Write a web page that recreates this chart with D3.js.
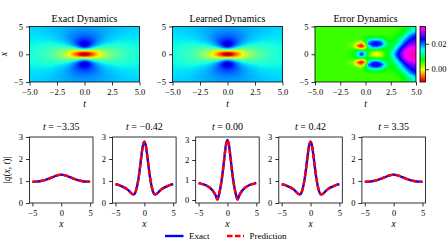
<!DOCTYPE html>
<html>
<head>
<meta charset="utf-8">
<script src="https://cdnjs.cloudflare.com/ajax/libs/d3/7.8.5/d3.min.js"></script>
<style>
  body { margin: 0; background: #fff; }
  svg { display: block; font-family: "Liberation Serif", "DejaVu Serif", serif; }
  .axis path { display: none; }
  .axis line { stroke: #000; stroke-width: 0.8; }
  .axis text { font-family: "Liberation Serif", "DejaVu Serif", serif; font-size: 8.5px; fill: #000; }
  .frame { fill: none; stroke: #000; stroke-width: 0.8; }
  .title { font-size: 10px; text-anchor: middle; }
  .label { font-size: 9.5px; text-anchor: middle; font-style: italic; }
</style>
</head>
<body>
<div id="chart"></div>
<script>
var width = 448;
var height = 252;

// |q(x,t)|, one quarter (t >= 0, x >= 0), field is symmetric
var qT = [0, 0.25, 0.5, 0.75, 1, 1.5, 2, 3, 4, 5];
var qX = [0, 0.25, 0.5, 0.75, 1, 1.25, 1.5, 1.75, 2, 2.5, 3, 4, 5];
var qAbs = [
  [3.00, 2.77, 2.20, 1.56, 1.00, 0.56, 0.23, 0.02, 0.20, 0.45, 0.60, 0.77, 0.85],
  [2.92, 2.71, 2.19, 1.59, 1.06, 0.65, 0.37, 0.25, 0.29, 0.47, 0.61, 0.77, 0.85],
  [2.72, 2.55, 2.13, 1.64, 1.18, 0.83, 0.59, 0.47, 0.45, 0.54, 0.64, 0.78, 0.85],
  [2.47, 2.36, 2.05, 1.67, 1.30, 1.00, 0.79, 0.66, 0.61, 0.62, 0.68, 0.79, 0.86],
  [2.24, 2.16, 1.94, 1.66, 1.37, 1.13, 0.94, 0.82, 0.75, 0.71, 0.73, 0.81, 0.87],
  [1.86, 1.82, 1.72, 1.58, 1.41, 1.26, 1.12, 1.02, 0.94, 0.86, 0.83, 0.85, 0.88],
  [1.61, 1.59, 1.54, 1.47, 1.37, 1.28, 1.19, 1.11, 1.05, 0.96, 0.92, 0.89, 0.91],
  [1.34, 1.34, 1.32, 1.30, 1.26, 1.23, 1.19, 1.15, 1.12, 1.06, 1.01, 0.96, 0.95],
  [1.21, 1.21, 1.20, 1.19, 1.18, 1.17, 1.15, 1.13, 1.11, 1.08, 1.05, 1.00, 0.98],
  [1.14, 1.14, 1.14, 1.14, 1.13, 1.12, 1.11, 1.10, 1.09, 1.07, 1.05, 1.02, 1.00]
];

// error field, rows are x >= 0 (mirrored), columns are t
var errT = [-5, -2, -1.2, -0.8, -0.4, 0, 0.3, 0.7, 1.1, 1.5, 1.9, 2.3, 2.7, 3.1, 3.5, 3.9, 4.3, 4.7, 5];
var errX = [0, 0.3, 0.7, 1.1, 1.45, 1.85, 2.3, 2.8, 3.4, 4, 5];
var errVals = [
  [0.0055, 0.0055, 0.007, 0.013, 0.024, 0.014, 0.006, 0.001, -0.001, 0.001, 0.006, 0.009, 0.015, 0.022, 0.027, 0.031, 0.033, 0.0335, 0.0335],
  [0.0055, 0.0055, 0.007, 0.012, 0.021, 0.013, 0.006, 0.002, 0.000, 0.002, 0.006, 0.009, 0.014, 0.021, 0.026, 0.031, 0.033, 0.0335, 0.0335],
  [0.0055, 0.0055, 0.006, 0.008, 0.009, 0.008, 0.007, 0.007, 0.006, 0.006, 0.007, 0.009, 0.013, 0.019, 0.025, 0.030, 0.032, 0.033, 0.033],
  [0.0055, 0.0055, 0.005, 0.001, -0.004, 0.002, 0.011, 0.015, 0.015, 0.012, 0.008, 0.008, 0.011, 0.016, 0.023, 0.028, 0.031, 0.032, 0.032],
  [0.0055, 0.0055, 0.003, -0.006, -0.010, -0.004, 0.014, 0.021, 0.022, 0.019, 0.012, 0.008, 0.010, 0.014, 0.020, 0.025, 0.029, 0.030, 0.031],
  [0.0055, 0.0055, 0.004, -0.002, -0.006, 0.004, 0.020, 0.024, 0.025, 0.023, 0.016, 0.009, 0.009, 0.012, 0.017, 0.023, 0.026, 0.028, 0.029],
  [0.0055, 0.0055, 0.0055, 0.004, 0.002, 0.008, 0.017, 0.021, 0.022, 0.020, 0.013, 0.007, 0.008, 0.010, 0.015, 0.020, 0.024, 0.026, 0.027],
  [0.0055, 0.0055, 0.0055, 0.0055, 0.006, 0.007, 0.010, 0.012, 0.012, 0.011, 0.008, 0.006, 0.007, 0.009, 0.012, 0.017, 0.021, 0.024, 0.025],
  [0.0055, 0.0055, 0.0055, 0.0055, 0.0055, 0.0055, 0.006, 0.006, 0.006, 0.006, 0.006, 0.006, 0.006, 0.007, 0.009, 0.013, 0.018, 0.021, 0.023],
  [0.0055, 0.0055, 0.0055, 0.0055, 0.0055, 0.0055, 0.0055, 0.0055, 0.0055, 0.0055, 0.0055, 0.0055, 0.0055, 0.006, 0.007, 0.009, 0.013, 0.016, 0.018],
  [0.0055, 0.0055, 0.0055, 0.0055, 0.0055, 0.0055, 0.0055, 0.0055, 0.0055, 0.0055, 0.0055, 0.0055, 0.0055, 0.0055, 0.006, 0.007, 0.009, 0.011, 0.013]
];
var errDomain = [-0.010, 0.0335];
var errTicks = [0.00, 0.02];

// slices |q(x,t)|, x >= 0 (mirrored)
var sliceTimes = ["\u22123.35", "\u22120.42", "0.00", "0.42", "3.35"];
var sliceX = [0, 0.25, 0.5, 0.75, 1, 1.25, 1.5, 1.75, 2, 2.5, 3, 3.5, 4, 4.5, 5];
var exactOuter = [1.29, 1.28, 1.27, 1.25, 1.23, 1.20, 1.18, 1.15, 1.12, 1.07, 1.03, 1.00, 0.98, 0.97, 0.96];
var exactInner = [2.79, 2.61, 2.16, 1.62, 1.14, 0.77, 0.52, 0.40, 0.40, 0.51, 0.63, 0.71, 0.77, 0.82, 0.85];
var exactCenter = [3.00, 2.77, 2.20, 1.56, 1.00, 0.56, 0.23, 0.02, 0.20, 0.45, 0.60, 0.70, 0.77, 0.81, 0.85];
var predOuter = [1.29, 1.28, 1.27, 1.25, 1.23, 1.20, 1.18, 1.15, 1.12, 1.07, 1.03, 1.00, 0.98, 0.97, 0.96];
var predInner = [2.79, 2.61, 2.16, 1.62, 1.14, 0.77, 0.52, 0.40, 0.40, 0.51, 0.63, 0.71, 0.77, 0.82, 0.85];
var predCenter = [3.00, 2.77, 2.20, 1.56, 1.00, 0.56, 0.23, 0.02, 0.20, 0.45, 0.60, 0.70, 0.77, 0.81, 0.85];
var exactSlices = [exactOuter, exactInner, exactCenter, exactInner, exactOuter];
var predSlices = [predOuter, predInner, predCenter, predInner, predOuter];

var heatTicksX = [-5, -2.5, 0, 2.5, 5];
var heatTicksY = [-5, 0, 5];
var sliceTicksX = [-5, 0, 5];
var sliceTicksY = [0, 1, 2, 3];

var svg = d3.select("#chart")
            .append("svg")
              .attr("width", width)
              .attr("height", height);

// colour maps
function channel(stops) {
  return d3.scaleLinear().domain(stops.map(function(s) { return s[0]; }))
           .range(stops.map(function(s) { return s[1]; })).clamp(true);
}
var jetR = channel([[0, 0], [0.35, 0], [0.66, 1], [0.89, 1], [1, 0.5]]);
var jetG = channel([[0, 0], [0.125, 0], [0.375, 1], [0.64, 1], [0.91, 0], [1, 0]]);
var jetB = channel([[0, 0.5], [0.11, 1], [0.34, 1], [0.65, 0], [1, 0]]);
function jet(f) { return [jetR(f) * 255, jetG(f) * 255, jetB(f) * 255]; }

var rainbowPos = [0, 0.03, 0.215, 0.4, 0.586, 0.77, 0.954, 1];
var rainbowCol = ["rgb(255,0,41)", "rgb(255,0,0)", "rgb(255,255,0)", "rgb(0,255,0)",
                  "rgb(0,255,255)", "rgb(0,0,255)", "rgb(255,0,255)", "rgb(255,0,191)"];
var rainbowScale = d3.scaleLinear().domain(rainbowPos).range(rainbowCol).clamp(true);
function rainbow(f) { var c = d3.rgb(rainbowScale(f)); return [c.r, c.g, c.b]; }

// bilinear lookup on a (non uniform) grid
function locate(arr, v) {
  var i = d3.bisectRight(arr, v) - 1;
  i = Math.max(0, Math.min(arr.length - 2, i));
  var f = (v - arr[i]) / (arr[i + 1] - arr[i]);
  return [i, Math.max(0, Math.min(1, f))];
}
function lookup(rowAxis, colAxis, vals, r, c) {
  var a = locate(rowAxis, r), b = locate(colAxis, c);
  var v00 = vals[a[0]][b[0]], v01 = vals[a[0]][b[0] + 1];
  var v10 = vals[a[0] + 1][b[0]], v11 = vals[a[0] + 1][b[0] + 1];
  return (v00 * (1 - b[1]) + v01 * b[1]) * (1 - a[1]) + (v10 * (1 - b[1]) + v11 * b[1]) * a[1];
}

function drawHeat(x0, y0, w, h, valueAt, colourAt, title, withYLabel) {
  var g = svg.append("g").attr("transform", "translate(" + x0 + "," + y0 + ")");
  var tScale = d3.scaleLinear().domain([-5, 5]).range([0, w]);
  var xScale = d3.scaleLinear().domain([-5, 5]).range([h, 0]);

  var k = 3;
  var canvas = document.createElement("canvas");
  canvas.width = Math.round(w * k);
  canvas.height = Math.round(h * k);
  var ctx = canvas.getContext("2d");
  var img = ctx.createImageData(canvas.width, canvas.height);
  for (var j = 0; j < canvas.height; j++) {
    for (var i = 0; i < canvas.width; i++) {
      var t = tScale.invert((i + 0.5) / k);
      var x = xScale.invert((j + 0.5) / k);
      var c = colourAt(valueAt(t, x));
      var p = (j * canvas.width + i) * 4;
      img.data[p] = c[0]; img.data[p + 1] = c[1]; img.data[p + 2] = c[2]; img.data[p + 3] = 255;
    }
  }
  ctx.putImageData(img, 0, 0);
  g.append("image")
    .attr("width", w).attr("height", h)
    .attr("preserveAspectRatio", "none")
    .attr("href", canvas.toDataURL());

  g.append("g").attr("class", "axis")
    .attr("transform", "translate(0," + h + ")")
    .call(d3.axisBottom(tScale).tickValues(heatTicksX).tickFormat(d3.format(".1f")).tickSize(3.5).tickPadding(3));
  g.append("g").attr("class", "axis")
    .call(d3.axisLeft(xScale).tickValues(heatTicksY).tickFormat(d3.format("d")).tickSize(3.5).tickPadding(3));
  g.append("rect").attr("class", "frame").attr("width", w).attr("height", h);

  g.append("text").attr("class", "title").attr("x", w / 2).attr("y", -5).text(title);
  g.append("text").attr("class", "label").attr("x", w / 2).attr("y", h + 25).text("t");
  if (withYLabel) {
    g.append("text").attr("class", "label")
      .attr("transform", "translate(" + (-23) + "," + (h / 2) + ") rotate(-90)")
      .text("x");
  }
  return g;
}

var heatTop = 26.5, heatH = 55.5;

function qAt(t, x) { return lookup(qT, qX, qAbs, Math.abs(t), Math.abs(x)); }
var jetNorm = d3.scaleLinear().domain([0, 3]).range([0, 1]).clamp(true);
function qColour(v) { return jet(jetNorm(v)); }

drawHeat(29.5, heatTop, 110, heatH, qAt, qColour, "Exact Dynamics", true);
drawHeat(172.5, heatTop, 110, heatH, qAt, qColour, "Learned Dynamics", false);

var errNorm = d3.scaleLinear().domain(errDomain).range([0, 1]).clamp(true);
function errAt(t, x) { return lookup(errX, errT, errVals, Math.abs(x), t); }
function errColour(v) { return rainbow(errNorm(v)); }
drawHeat(315, heatTop, 101, heatH, errAt, errColour, "Error Dynamics", false);

// colourbar
var grad = svg.append("defs").append("linearGradient")
  .attr("id", "cbar").attr("x1", 0).attr("y1", 1).attr("x2", 0).attr("y2", 0);
grad.selectAll("stop").data(rainbowPos).enter().append("stop")
  .attr("offset", function(d) { return d; })
  .attr("stop-color", function(d, i) { return rainbowCol[i]; });
var cbar = svg.append("g").attr("transform", "translate(420," + heatTop + ")");
cbar.append("rect").attr("width", 5.5).attr("height", heatH).attr("fill", "url(#cbar)");
var cScale = d3.scaleLinear().domain(errDomain).range([heatH, 0]);
cbar.append("g").attr("class", "axis")
  .attr("transform", "translate(5.5,0)")
  .call(d3.axisRight(cScale).tickValues(errTicks).tickFormat(d3.format(".2f")).tickSize(3.5).tickPadding(2.5));
cbar.append("rect").attr("class", "frame").attr("width", 5.5).attr("height", heatH);

// slices
var sliceTop = 137, sliceH = 66, sliceW = 63.5;
function mirror(xs, vs) {
  var pts = [];
  for (var i = xs.length - 1; i > 0; i--) pts.push([-xs[i], vs[i]]);
  for (var k = 0; k < xs.length; k++) pts.push([xs[k], vs[k]]);
  return pts;
}

sliceTimes.forEach(function(label, i) {
  var g = svg.append("g").attr("transform", "translate(" + (29.5 + i * 83.1) + "," + sliceTop + ")");
  var xS = d3.scaleLinear().domain([-5.5, 5.5]).range([0, sliceW]);
  var yDom = i === 2 ? [-0.15, 3.15] : [0, 3];
  var yS = d3.scaleLinear().domain(yDom).range([sliceH, 0]);
  var line = d3.line()
    .x(function(d) { return xS(d[0]); })
    .y(function(d) { return yS(d[1]); })
    .curve(d3.curveMonotoneX);

  g.append("path").datum(mirror(sliceX, exactSlices[i]))
    .attr("d", line).attr("fill", "none")
    .attr("stroke", "#0000ff").attr("stroke-width", 2.4);
  g.append("path").datum(mirror(sliceX, predSlices[i]))
    .attr("d", line).attr("fill", "none")
    .attr("stroke", "#ff0000").attr("stroke-width", 2.4)
    .attr("stroke-dasharray", "5.5,2.5");

  g.append("g").attr("class", "axis")
    .attr("transform", "translate(0," + sliceH + ")")
    .call(d3.axisBottom(xS).tickValues(sliceTicksX).tickFormat(d3.format("d")).tickSize(3.5).tickPadding(3));
  g.append("g").attr("class", "axis")
    .call(d3.axisLeft(yS).tickValues(sliceTicksY).tickFormat(d3.format("d")).tickSize(3.5).tickPadding(3));
  g.append("rect").attr("class", "frame").attr("width", sliceW).attr("height", sliceH);

  var title = g.append("text").attr("class", "title").attr("x", sliceW / 2).attr("y", -7);
  title.append("tspan").attr("font-style", "italic").text("t");
  title.append("tspan").text(" = " + label);
  g.append("text").attr("class", "label").attr("x", sliceW / 2).attr("y", sliceH + 24).text("x");

  if (i === 0) {
    var yl = g.append("text").attr("class", "label").attr("font-style", "normal")
      .attr("transform", "translate(-20," + (sliceH / 2) + ") rotate(-90)");
    yl.append("tspan").attr("font-style", "normal").text("|");
    yl.append("tspan").attr("font-style", "italic").text("q");
    yl.append("tspan").attr("font-style", "normal").text("(");
    yl.append("tspan").attr("font-style", "italic").text("x");
    yl.append("tspan").attr("font-style", "normal").text(", ");
    yl.append("tspan").attr("font-style", "italic").text("t");
    yl.append("tspan").attr("font-style", "normal").text(")|");
  }
});

// legend
var legend = svg.append("g").attr("transform", "translate(0,236)");
legend.append("line").attr("x1", 165).attr("x2", 183.5).attr("y1", 0).attr("y2", 0)
  .attr("stroke", "#0000ff").attr("stroke-width", 2.4);
legend.append("text").attr("x", 189).attr("y", 3).attr("font-size", "9px").text("Exact");
legend.append("line").attr("x1", 227).attr("x2", 244).attr("y1", 0).attr("y2", 0)
  .attr("stroke", "#ff0000").attr("stroke-width", 2.4).attr("stroke-dasharray", "5.5,2.5");
legend.append("text").attr("x", 249.5).attr("y", 3).attr("font-size", "9px").text("Prediction");
</script>
</body>
</html>
